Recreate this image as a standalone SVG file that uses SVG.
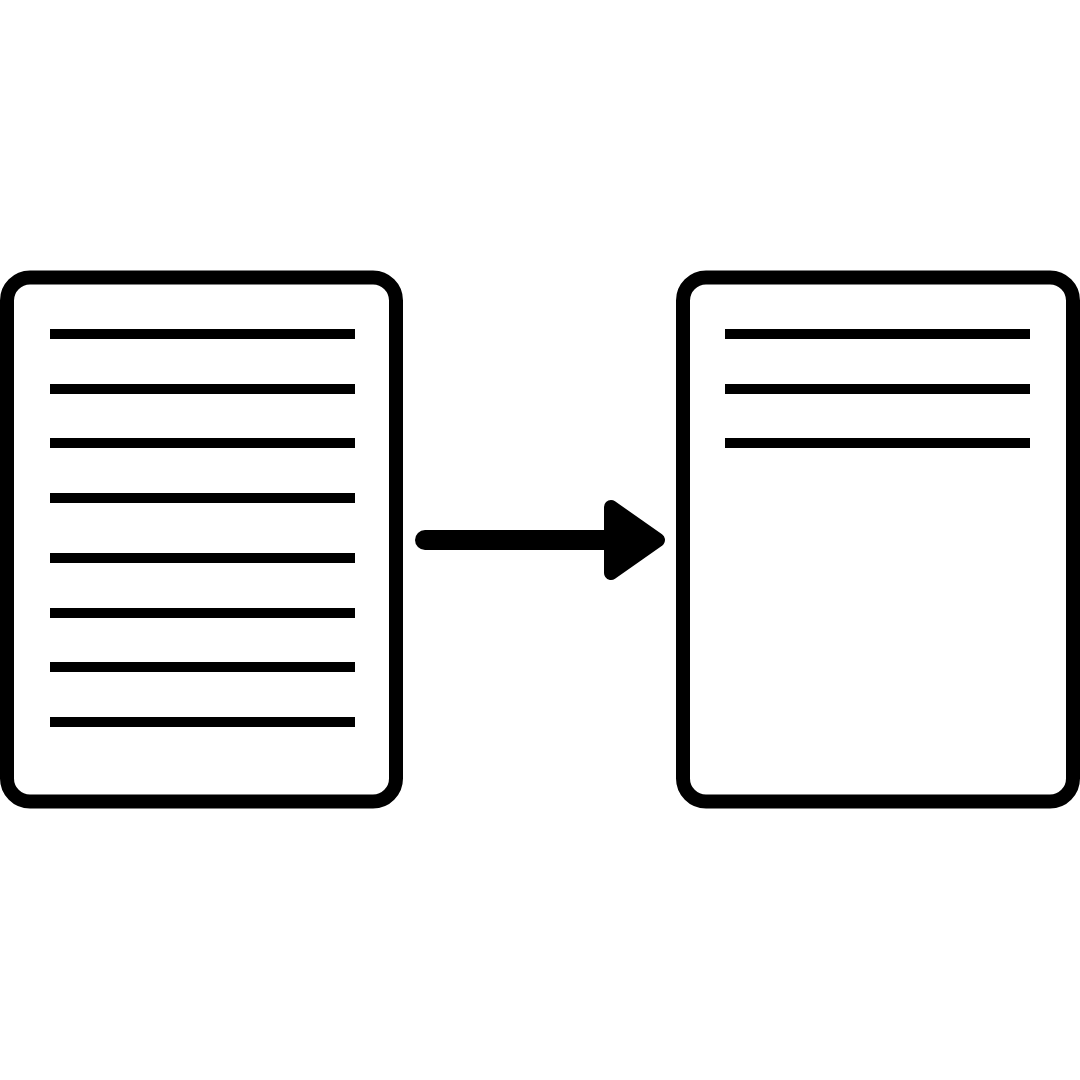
<svg xmlns="http://www.w3.org/2000/svg" width="1080" height="1080" viewBox="0 0 1080 1080">
  <style>
    .page { fill: #ffffff; stroke: #000000; stroke-width: 14; }
    .row { stroke: #000000; stroke-width: 10; }
    .shaft { stroke: #000000; stroke-width: 20; stroke-linecap: round; fill: none; }
    .head { fill: #000000; stroke: #000000; stroke-width: 14; stroke-linejoin: round; }
  </style>
  <rect width="1080" height="1080" fill="#ffffff"/>

  <!-- full document -->
  <g id="doc-full">
    <rect class="page" x="7" y="277.5" width="389" height="524" rx="23" ry="23"/>
    <line class="row" x1="50" y1="334" x2="355" y2="334"/>
    <line class="row" x1="50" y1="389" x2="355" y2="389"/>
    <line class="row" x1="50" y1="443" x2="355" y2="443"/>
    <line class="row" x1="50" y1="498" x2="355" y2="498"/>
    <line class="row" x1="50" y1="558" x2="355" y2="558"/>
    <line class="row" x1="50" y1="613" x2="355" y2="613"/>
    <line class="row" x1="50" y1="667" x2="355" y2="667"/>
    <line class="row" x1="50" y1="722" x2="355" y2="722"/>
  </g>

  <!-- reduced document -->
  <g id="doc-short">
    <rect class="page" x="683" y="277.5" width="390" height="524" rx="23" ry="23"/>
    <line class="row" x1="725" y1="334" x2="1030" y2="334"/>
    <line class="row" x1="725" y1="389" x2="1030" y2="389"/>
    <line class="row" x1="725" y1="443" x2="1030" y2="443"/>
  </g>

  <!-- connector -->
  <g id="connectors">
    <line class="shaft" x1="425" y1="540" x2="615" y2="540"/>
    <polygon class="head" points="611,507 658,540 611,573"/>
  </g>
</svg>
